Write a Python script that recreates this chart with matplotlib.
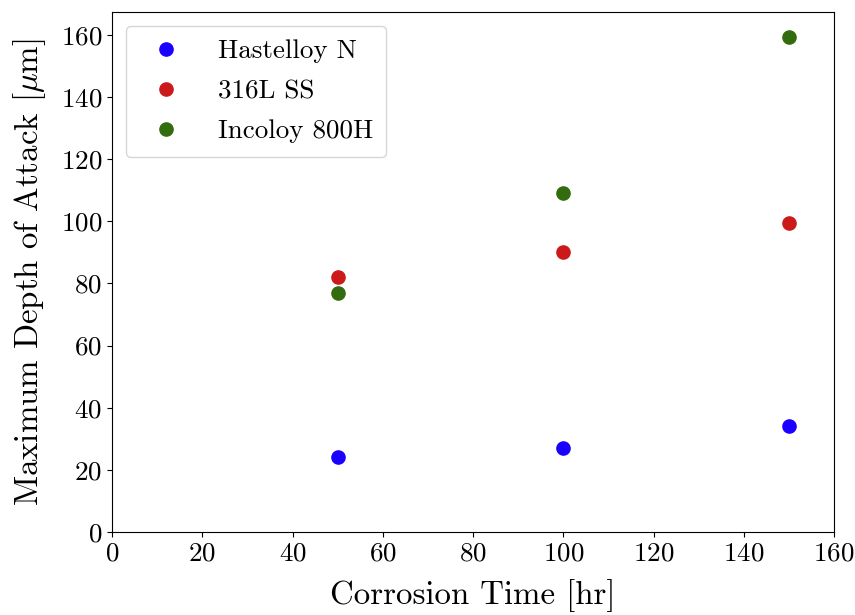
import matplotlib
matplotlib.use("Agg")
import matplotlib.pyplot as plt

plt.rcParams['font.family'] = 'serif'
plt.rcParams['font.serif'] = ['cmr10']
plt.rcParams['mathtext.fontset'] = 'cm'
plt.rcParams['axes.formatter.use_mathtext'] = True

times = [50, 100, 150]
hastelloy = [24, 27, 34]
ss316 = [82, 90, 99.5]
incoloy = [77, 109, 159.5]

fig, ax = plt.subplots(figsize=(8.55, 6.15), dpi=100)
fig.subplots_adjust(left=0.131, right=0.9755, top=0.9805, bottom=0.135)

ax.plot(times, hastelloy, 'o', color='#1a00ff', markersize=9.5, label='Hastelloy N')
ax.plot(times, ss316, 'o', color='#cc1a1a', markersize=9.5, label='316L SS')
ax.plot(times, incoloy, 'o', color='#336b0f', markersize=9.5, label='Incoloy 800H')

ax.set_xlim(0, 160)
ax.set_ylim(0, 167.4)
ax.set_xlabel('Corrosion Time [hr]', fontsize=23.7, labelpad=10)
ax.set_ylabel(r'Maximum Depth of Attack [$\mu$m]', fontsize=23.7, labelpad=9)
ax.tick_params(labelsize=19.5)
ax.legend(fontsize=19.5, loc='upper left', borderpad=0.5, labelspacing=0.6,
          handletextpad=0.9)

fig.savefig('out.png', dpi=100)
